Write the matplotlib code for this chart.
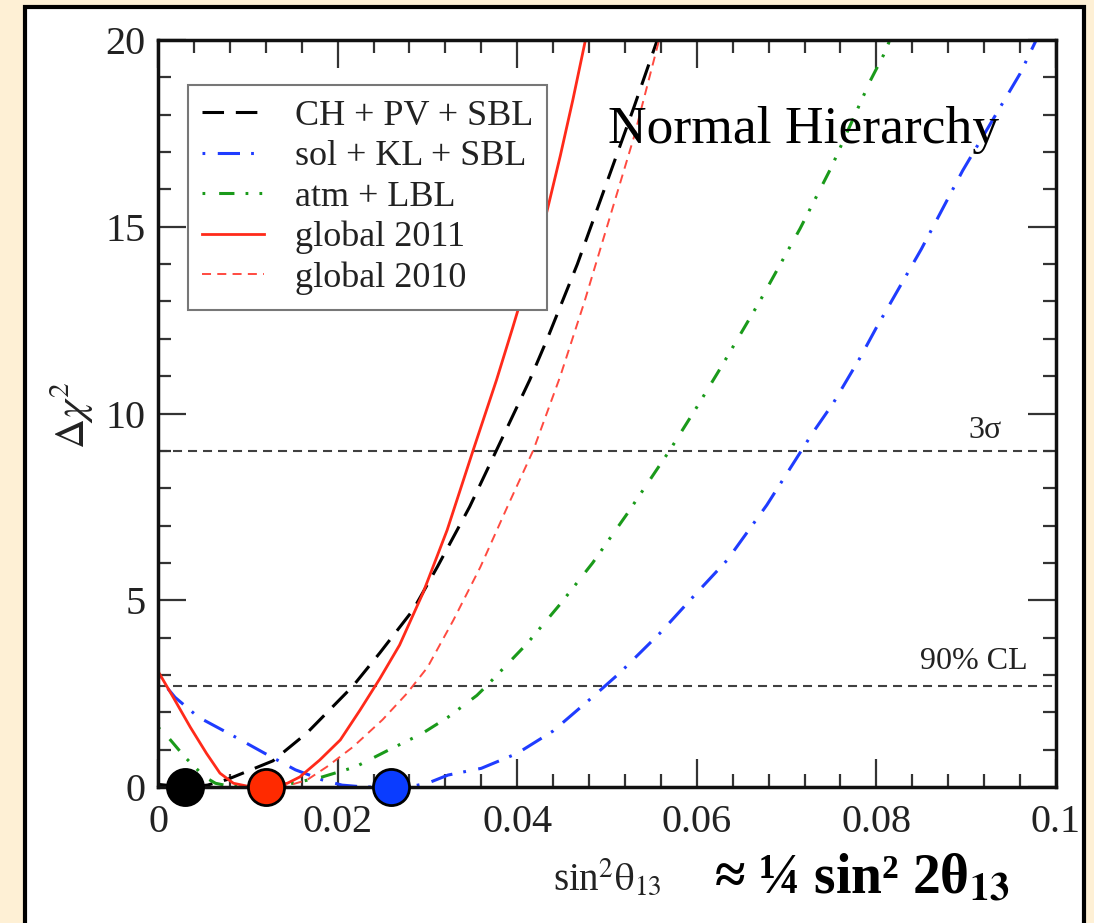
import matplotlib
matplotlib.use('Agg')
import matplotlib.pyplot as plt
from matplotlib.patches import Rectangle
from matplotlib.ticker import MultipleLocator, FuncFormatter

plt.rcParams['font.family'] = ['Liberation Serif', 'DejaVu Serif']
plt.rcParams['mathtext.fontset'] = 'stix'
plt.rcParams['lines.scale_dashes'] = False

# delta chi^2 profiles vs sin^2(theta13)
ch_x = [0.0, 0.003, 0.0055, 0.0077, 0.0128, 0.0166, 0.0217, 0.0247, 0.0284, 0.0311,
        0.0347, 0.0377, 0.0414, 0.0433, 0.0467, 0.0500, 0.0530, 0.0556]
ch_y = [0.07, 0.0, 0.05, 0.2, 0.7, 1.45, 2.7, 3.59, 4.74, 5.89,
        7.5, 9.02, 10.9, 11.97, 14.0, 16.2, 18.2, 20.0]

sol_x = [0.0, 0.0019, 0.0045, 0.0086, 0.0119, 0.0153, 0.0183, 0.0205, 0.0230, 0.0260,
         0.0285, 0.0300, 0.0323, 0.0360, 0.0400, 0.0440, 0.0484, 0.0514, 0.0559, 0.0600,
         0.0634, 0.0678, 0.0729, 0.0752, 0.0782, 0.0800, 0.0850, 0.0896, 0.0960, 0.0978]
sol_y = [2.95, 2.4, 1.87, 1.34, 0.9, 0.46, 0.19, 0.05, 0.0, 0.0,
         0.03, 0.1, 0.32, 0.5, 0.9, 1.5, 2.41, 3.05, 4.12, 5.2,
         6.08, 7.55, 9.48, 10.28, 11.5, 12.3, 14.4, 16.5, 19.1, 20.0]

atm_x = [0.0, 0.0011, 0.003, 0.0052, 0.0064, 0.0080, 0.0110, 0.0140, 0.0156, 0.0183,
         0.0220, 0.0256, 0.0294, 0.0323, 0.0355, 0.0366, 0.0411, 0.0448, 0.0484, 0.0522,
         0.0570, 0.0600, 0.0626, 0.0670, 0.0715, 0.0750, 0.0793, 0.0808, 0.0815]
atm_y = [1.6, 1.34, 0.8, 0.27, 0.1, 0.02, 0.0, 0.05, 0.13, 0.27,
         0.54, 0.98, 1.43, 1.87, 2.45, 2.71, 3.84, 4.9, 6.0, 7.3,
         9.02, 10.17, 11.2, 13.0, 14.95, 16.6, 18.9, 19.6, 20.0]

g11_x = [0.0, 0.0017, 0.0036, 0.0054, 0.0069, 0.0084, 0.0100, 0.0120, 0.0144, 0.0158,
         0.0180, 0.0203, 0.0225, 0.0247, 0.0269, 0.0295, 0.0322, 0.0351, 0.0377, 0.0395,
         0.0415, 0.0433, 0.0448, 0.0462, 0.0476]
g11_y = [3.1, 2.4, 1.6, 0.9, 0.37, 0.1, 0.02, 0.0, 0.1, 0.27,
         0.72, 1.26, 2.06, 2.9, 3.8, 5.19, 6.88, 9.02, 10.9, 12.3,
         13.9, 15.4, 16.9, 18.4, 20.0]

g10_x = [0.0100, 0.0140, 0.0166, 0.0188, 0.0217, 0.0250, 0.0277, 0.0300, 0.0329, 0.0359,
         0.0389, 0.0418, 0.0448, 0.0475, 0.0500, 0.0530, 0.0558]
g10_y = [0.05, 0.0, 0.19, 0.54, 1.07, 1.8, 2.5, 3.2, 4.47, 5.89,
         7.5, 9.02, 11.0, 13.0, 15.0, 17.4, 20.0]

# best-fit points
best_x = [0.003, 0.012, 0.026]
best_y = [0.0, 0.0, 0.0]
best_colors = ['black', '#ff2a00', '#0a3cff']

# confidence levels
cl_values = [9.0, 2.71]
cl_labels = ['3σ', '90% CL']

fig = plt.figure(figsize=(10.94, 9.23), dpi=100)
fig.patch.set_facecolor('#fef0d5')
fig.add_artist(Rectangle((25 / 1094, -0.02), 1059 / 1094, 1.02 - 6.5 / 923,
                         transform=fig.transFigure, facecolor='white',
                         edgecolor='black', linewidth=3, zorder=0))

ax = fig.add_axes([158 / 1094, 136 / 923, 898 / 1094, 747 / 923])
ax.set_facecolor('white')

ax.plot(ch_x, ch_y, color='black', lw=2.2, ls=(0, (15.5, 8.5)), label='CH + PV + SBL')
ax.plot(sol_x, sol_y, color='#1f3cff', lw=2.2, ls=(24, (16, 8, 2, 9)), label='sol + KL + SBL')
ax.plot(atm_x, atm_y, color='#1a9a1a', lw=2.2, ls=(29, (11, 8, 2, 8, 2, 10)), label='atm + LBL')
ax.plot(g11_x, g11_y, color='#ff2a1a', lw=2.0, label='global 2011')
ax.plot(g10_x, g10_y, color='#ff4a40', lw=1.4, ls=(0, (6.5, 4.5)), label='global 2010')

for val in cl_values:
    ax.axhline(val, color='#404040', lw=1.5, ls=(0, (6.5, 4.3)), zorder=1)
ax.text(0.094, 9.35, cl_labels[0], fontsize=23, ha='right', va='baseline', color='#222')
ax.text(0.0968, 3.15, cl_labels[1], fontsize=23, ha='right', va='baseline', color='#222')

for bx, by, bc in zip(best_x, best_y, best_colors):
    ax.plot(bx, by, 'o', ms=26, mfc=bc, mec='black', mew=2, clip_on=False, zorder=10)

ax.set_xlim(0, 0.1)
ax.set_ylim(0, 20)
ax.xaxis.set_major_locator(MultipleLocator(0.02))
ax.xaxis.set_minor_locator(MultipleLocator(0.004))
ax.yaxis.set_major_locator(MultipleLocator(5))
ax.yaxis.set_minor_locator(MultipleLocator(1))
ax.xaxis.set_major_formatter(FuncFormatter(lambda v, p: '%g' % v))
ax.yaxis.set_major_formatter(FuncFormatter(lambda v, p: '%g' % v))
ax.tick_params(which='both', direction='in', top=True, right=True,
               color='#333', labelcolor='#222', width=1.6, labelsize=29)
ax.tick_params(axis='x', pad=12)
ax.tick_params(axis='y', pad=9)
ax.tick_params(which='major', length=20)
ax.tick_params(which='minor', length=9.5)
for sp in ax.spines.values():
    sp.set_linewidth(2.5)
    sp.set_color('#111')

leg = ax.legend(loc='upper left', bbox_to_anchor=(0.0334, 0.9398), borderaxespad=0,
                fontsize=26, handlelength=1.7, handletextpad=0.85, labelspacing=0.2,
                borderpad=0.4, fancybox=False, framealpha=1, edgecolor='#777')
leg.get_frame().set_linewidth(1.5)
for t in leg.get_texts():
    t.set_color('#222')

ax.text(0.501, 0.862, 'Normal Hierarchy', transform=ax.transAxes, fontsize=38.5,
        ha='left', va='baseline', color='black')

fig.text(72 / 1094, 0.55, r'$\Delta\chi^2$', rotation=90, fontsize=30,
         ha='center', va='center', color='#222')
fig.text(553 / 1094, 32 / 923, r'sin$^2\mathrm{\theta}_{13}$', fontsize=28,
         ha='left', va='baseline', color='#222')
fig.text(714 / 1094, 30 / 923, r'≈ ¼ sin² 2θ$_{\mathbf{13}}$', fontsize=40,
         fontweight='bold', ha='left', va='baseline', color='black')

fig.savefig('out.png', dpi=100, facecolor=fig.get_facecolor())
